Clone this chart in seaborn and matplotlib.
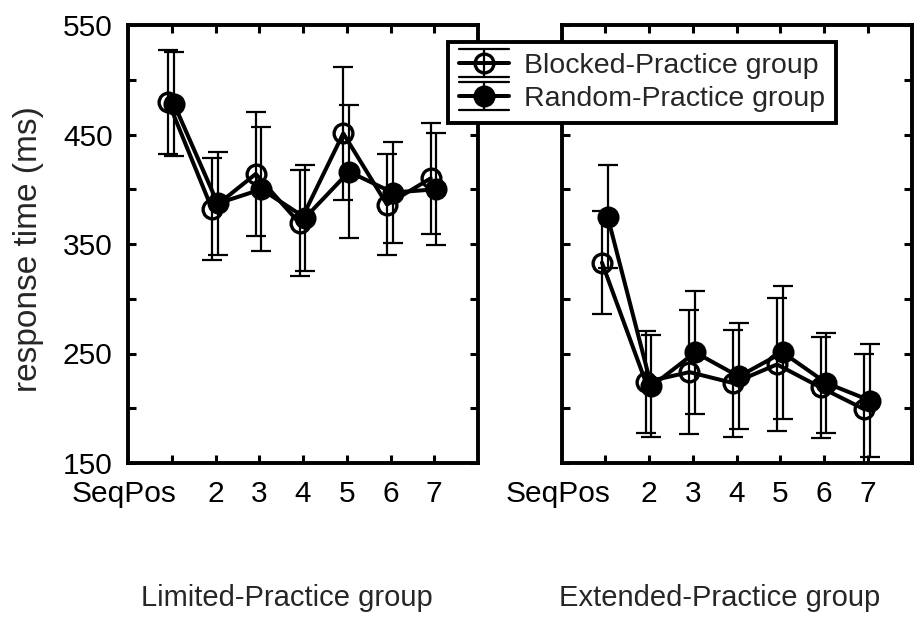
import matplotlib
matplotlib.use("Agg")
import matplotlib.pyplot as plt
import matplotlib.transforms as mtransforms
from matplotlib.legend_handler import HandlerBase
from matplotlib.lines import Line2D
import numpy as np
import pandas as pd
import seaborn as sns

# ---- data -------------------------------------------------------------
positions = [1, 2, 3, 4, 5, 6, 7]
tick_labels = ["SeqPos", "2", "3", "4", "5", "6", "7"]
panel_titles = ["Limited-Practice group", "Extended-Practice group"]
group_names = ["Blocked-Practice group", "Random-Practice group"]

limited_blocked = [480, 382, 414, 369, 451, 386, 410]
limited_blocked_err = [47.5, 46.7, 56.6, 48.6, 60.9, 46.1, 50.6]
limited_random = [478, 387, 400, 374, 416, 397, 400]
limited_random_err = [47.2, 46.7, 56.6, 48.4, 60.9, 45.7, 51.0]

extended_blocked = [333, 224, 233, 223, 240, 219, 199]
extended_blocked_err = [47.0, 46.5, 56.3, 48.8, 60.9, 45.9, 51.0]
extended_random = [375, 220, 251, 229, 251, 223, 207]
extended_random_err = [47.0, 46.5, 56.3, 48.4, 60.5, 45.8, 51.5]

y_major = [150, 250, 350, 450, 550]
y_minor = [200, 300, 400, 500]

# ---- style ------------------------------------------------------------
sns.set_style("ticks")
plt.rcParams["font.family"] = ["Liberation Sans", "DejaVu Sans"]

TICK_FS = 21.5
LEGEND_FS = 20.5
DODGE = {"Blocked-Practice group": -0.08, "Random-Practice group": 0.05}
FILL = {"Blocked-Practice group": "none", "Random-Practice group": "black"}
MS, MEW, LW = 13.5, 2.4, 2.9
ELW = 1.6

fig = plt.figure(figsize=(9.17, 6.18), dpi=100)
W, H = 917, 618
ax_l = fig.add_axes([128 / W, 1 - 463 / H, 350 / W, 438 / H])
ax_r = fig.add_axes([561.7 / W, 1 - 463 / H, 350 / W, 438 / H])

panels = [
    (ax_l, panel_titles[0],
     {group_names[0]: (limited_blocked, limited_blocked_err),
      group_names[1]: (limited_random, limited_random_err)}),
    (ax_r, panel_titles[1],
     {group_names[0]: (extended_blocked, extended_blocked_err),
      group_names[1]: (extended_random, extended_random_err)}),
]

for ax, title, series in panels:
    rows = []
    for g, (vals, errs) in series.items():
        for p, v, e in zip(positions, vals, errs):
            rows.append({"group": g, "pos": p + DODGE[g], "rt": v, "err": e})
    df = pd.DataFrame(rows)

    for z, g in enumerate(group_names):
        sub = df[df["group"] == g]
        ax.errorbar(sub["pos"], sub["rt"], yerr=sub["err"], fmt="none",
                    ecolor="black", elinewidth=ELW, capsize=7.5, capthick=ELW,
                    zorder=2 + 2 * z)
        sns.lineplot(data=sub, x="pos", y="rt", ax=ax, color="black",
                     marker="o", markersize=MS, markeredgewidth=MEW,
                     markeredgecolor="black", markerfacecolor=FILL[g],
                     linewidth=LW, sort=False, legend=False, errorbar=None,
                     zorder=3 + 2 * z)

    ax.set_xlim(0.0, 8.0)
    ax.set_ylim(150, 550)
    ax.set_xticks(positions)
    ax.set_xticklabels(tick_labels)
    ax.set_yticks(y_major)
    ax.set_yticks(y_minor, minor=True)
    ax.set_xlabel("")
    ax.set_ylabel("")
    ax.tick_params(axis="both", which="both", direction="in", length=5.5,
                   width=2.2, top=True, right=True, labelsize=TICK_FS,
                   color="black", labelcolor="black")
    ax.tick_params(axis="x", pad=12.5)
    ax.tick_params(axis="y", pad=11)
    for s in ax.spines.values():
        s.set_linewidth(2.8)
        s.set_color("black")
    # the first category name sits to the left of its tick
    first = ax.get_xticklabels()[0]
    first.set_horizontalalignment("right")
    first.set_transform(first.get_transform() +
                        mtransforms.ScaledTranslation(5 / 100, 0, fig.dpi_scale_trans))

ax_r.tick_params(axis="y", labelleft=False)

# group titles under each panel
fig.text(287 / W, 1 - 606 / H, panel_titles[0], fontsize=21,
         ha="center", va="baseline")
fig.text(720 / W, 1 - 606 / H, panel_titles[1], fontsize=21,
         ha="center", va="baseline")

fig.text(29 / W, 1 - 249 / H, "response time (ms)", fontsize=24,
         rotation=90, ha="center", va="center")


# legend key: line with marker plus an error bar spanning the key width
class ErrorbarKeyHandler(HandlerBase):
    def create_artists(self, legend, orig_handle, xdescent, ydescent,
                       width, height, fontsize, trans):
        cy = height / 2.0 - ydescent
        x0, x1 = -xdescent, width - xdescent
        xc = 0.5 * (x0 + x1)
        half = 0.49 * fontsize
        arts = [
            Line2D([x0, x1], [cy, cy], color="black", lw=LW),
            Line2D([xc, xc], [cy - half, cy + half], color="black", lw=ELW),
            Line2D([x0, x1], [cy + half, cy + half], color="black", lw=ELW),
            Line2D([x0, x1], [cy - half, cy - half], color="black", lw=ELW),
            Line2D([xc], [cy], marker="o", ls="none", ms=MS, mew=MEW,
                   mec="black", mfc=orig_handle.get_markerfacecolor()),
        ]
        for a in arts:
            a.set_transform(trans)
        return arts


handles = [Line2D([], [], color="black", marker="o", mfc=FILL[g])
           for g in group_names]
leg = fig.legend(handles, group_names, loc="upper left",
                 bbox_to_anchor=(448 / W, 1 - 42 / H), borderaxespad=0,
                 fontsize=LEGEND_FS, frameon=True, fancybox=False,
                 edgecolor="black", framealpha=1, handlelength=1.75,
                 handletextpad=0.53, borderpad=0.38, labelspacing=0.25,
                 handler_map={Line2D: ErrorbarKeyHandler()})
leg.get_frame().set_linewidth(2.8)
leg.set_zorder(10)

fig.savefig("out.png", dpi=100)
